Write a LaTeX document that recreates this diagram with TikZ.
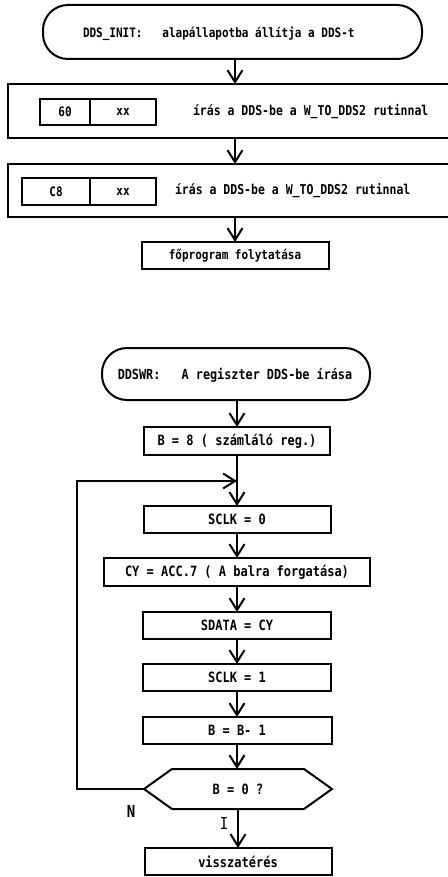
\documentclass[tikz,border=0pt]{standalone}
\usepackage{fontspec}
\setmonofont{DejaVu Sans Mono}
\usetikzlibrary{arrows.meta,calc}
\newcommand{\tallt}[1]{\scalebox{1}[1.18]{#1}}
\begin{document}
\begin{tikzpicture}[x=1pt,y=-1pt,
  lw/.style={line width=2pt},
  box/.style={draw,lw,inner sep=0pt,outer sep=0pt,font=\ttfamily\bfseries\fontsize{12}{14}\selectfont},
  sbox/.style={box,font=\ttfamily\bfseries\fontsize{11}{13}\selectfont},
  term/.style={box,rounded corners=25pt},
  txt/.style={inner sep=0pt,outer sep=0pt,font=\ttfamily\bfseries\fontsize{11.5}{13}\selectfont},
  lab/.style={inner sep=0pt,font=\ttfamily\bfseries\fontsize{14}{16}\selectfont},
  arr/.style={lw,-{Straight Barb[length=12pt,width=15pt,line width=2pt]}}]
\useasboundingbox (0,0) rectangle (447,877);

% ---------- first chart ----------
\node[term,minimum width=379pt,minimum height=54pt] (t1) at (232.5,32) {};
\node[txt,anchor=west,font=\ttfamily\bfseries\fontsize{11}{13}\selectfont] (t1txt) at (83,34) {\tallt{DDS\_INIT:~~~alapállapotba állítja a DDS-t}};

\node[box,minimum width=452pt,minimum height=54pt] (b1) at (234,111) {};
\node[sbox,minimum width=50pt,minimum height=26pt] (i1a) at (65,112) {\tallt{60}};
\node[sbox,minimum width=66pt,minimum height=26pt] (i1b) at (123,112) {\tallt{xx}};
\node[txt,anchor=west] (b1txt) at (193,112) {\tallt{írás a DDS-be a W\_TO\_DDS2 rutinnal}};

\node[box,minimum width=452pt,minimum height=53pt] (b2) at (234,190.5) {};
\node[sbox,minimum width=68pt,minimum height=27pt] (i2a) at (56,191.5) {\tallt{C8}};
\node[sbox,minimum width=66pt,minimum height=27pt] (i2b) at (123,191.5) {\tallt{xx}};
\node[txt,anchor=west] (b2txt) at (175,191) {\tallt{írás a DDS-be a W\_TO\_DDS2 rutinnal}};

\node[sbox,minimum width=187pt,minimum height=27pt] (fo) at (235,255.5) {\tallt{főprogram folytatása}};

\coordinate (a1s) at (235,59);
\coordinate (a1e) at (235,84);
\coordinate (a2s) at (235,138);
\coordinate (a2e) at (235,164);
\coordinate (a3s) at (235,217);
\draw[arr] (a1s) -- (a1e);
\draw[arr] (a2s) -- (a2e);
\draw[arr] (a3s) -- (fo.north);

% ---------- second chart ----------
\node[term,minimum width=268pt,minimum height=52pt] (t2) at (236,374) {};
\node[txt,font=\ttfamily\bfseries\fontsize{11.8}{13}\selectfont] (t2txt) at (235,375) {\tallt{DDSWR:~~~A regiszter DDS-be írása}};

\node[box,minimum width=186pt,minimum height=28pt] (b8) at (237,441) {\tallt{B = 8 ( számláló reg.)}};
\node[box,minimum width=187pt,minimum height=27pt] (s0) at (237,519.5) {\tallt{SCLK = 0}};
\node[box,minimum width=266pt,minimum height=28pt] (cy) at (237,572) {\tallt{CY = ACC.7 ( A balra forgatása)}};
\node[box,minimum width=188pt,minimum height=27pt] (sd) at (237,625.5) {\tallt{SDATA = CY}};
\node[box,minimum width=188pt,minimum height=27pt] (s1) at (237,677.5) {\tallt{SCLK = 1}};
\node[box,minimum width=189pt,minimum height=27pt] (bb) at (237,730.5) {\tallt{B = B- 1}};
\node[inner sep=0pt,outer sep=0pt,minimum width=188pt,minimum height=40pt,font=\ttfamily\bfseries\fontsize{12}{14}\selectfont] (hex) at (238,789) {\tallt{B = 0 ?}};
\draw[lw,line join=miter] (hex.west) -- ($(hex.north west)+(28,0)$) -- ($(hex.north east)+(-28,0)$) -- (hex.east) -- ($(hex.south east)+(-28,0)$) -- ($(hex.south west)+(28,0)$) -- cycle;
\node[box,minimum width=187pt,minimum height=27pt] (vi) at (238,861.5) {\tallt{visszatérés}};

\coordinate (t2s) at (237,400);
\draw[arr] (t2s) -- (b8.north);
\draw[arr] (b8.south) -- (s0.north);
\draw[arr] (s0.south) -- (cy.north);
\draw[arr] (cy.south) -- (sd.north);
\draw[arr] (sd.south) -- (s1.north);
\draw[arr] (s1.south) -- (bb.north);
\coordinate (hn) at (237,769);
\draw[arr] (bb.south) -- (hn);
\coordinate (hs) at (238,809);
\draw[arr] (hs) -- (vi.north);

\coordinate (lb) at (77,789);
\coordinate (lt) at (77,481);
\coordinate (j) at (237,481);
\draw[arr,line join=miter] (hex.west) -- (lb) -- (lt) -- (j);

\node[lab] (N) at (131,811) {\tallt{N}};
\node[lab,font=\ttfamily\fontsize{14}{16}\selectfont] (I) at (224,823) {\tallt{I}};
\end{tikzpicture}
\end{document}
